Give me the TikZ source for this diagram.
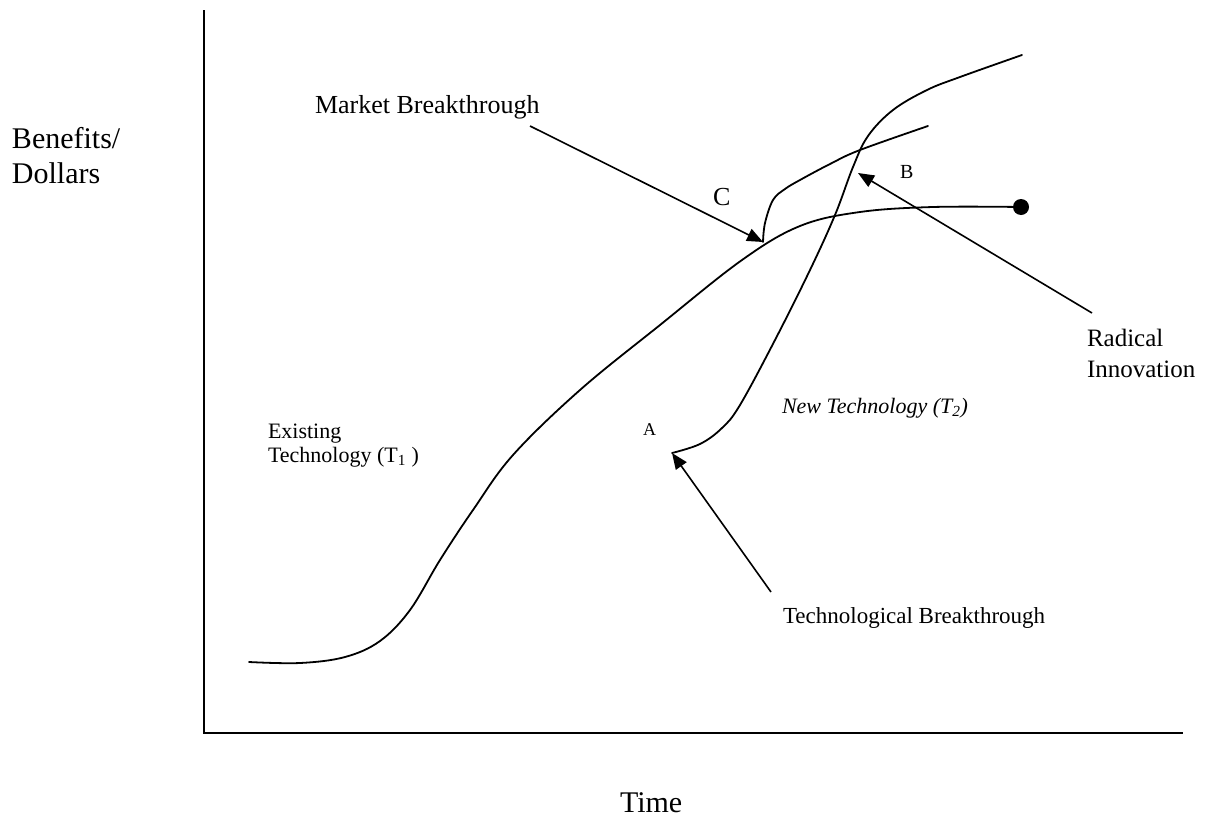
\documentclass[tikz,border=0pt]{standalone}
\usepackage{fontspec}
\setmainfont{Liberation Serif}
\usetikzlibrary{arrows.meta}
\begin{document}
\begin{tikzpicture}[x=1pt,y=-1pt,
  lbl/.style={anchor=base west,inner sep=0pt,outer sep=0pt},
  curve/.style={line width=1.8pt,line join=round,line cap=round},
  axisline/.style={line width=2.2pt},
  pointer/.style={line width=1.6pt,-{Triangle[length=16pt,width=13pt]}}]
\useasboundingbox (0,0) rectangle (1215,819);
% axes
\coordinate (ytop) at (204,10);
\coordinate (origin) at (204,733);
\coordinate (xend) at (1183,733);
\draw[axisline] (ytop) -- (origin) -- (xend);
% axis labels
\node[lbl,font=\fontsize{30}{35}\selectfont] (ben) at (12,148) {Benefits/};
\node[lbl,font=\fontsize{30}{35}\selectfont] (dol) at (12,183) {Dollars};
\node[lbl,font=\fontsize{30}{35}\selectfont] (time) at (620,812) {Time};
% existing technology curve T1
\draw[curve] plot[smooth,tension=0.6] coordinates {(249,662) (300,663) (345,657) (380,641) (410,610) (440,560) (473,510) (513,455) (580,390) (660,325) (742,260) (800,226) (860,212) (933,207) (1021,207)};
\fill (1021,207) circle (8);
% new technology curve T2
\draw[curve] plot[smooth,tension=0.6] coordinates {(672,453) (700,444) (722,428) (740,405) (775,340) (810,270) (835,215) (853,167) (868,136) (893,110) (927,90) (960,77) (1022,55)};
% market curve C
\draw[curve] plot[smooth,tension=0.6] coordinates {(763,242) (765,223) (773,200) (785,189) (800,180) (830,164) (860,150) (928,126)};
% labels
\node[lbl,font=\fontsize{26}{30}\selectfont] (mb) at (315,113) {Market Breakthrough};
\node[lbl,font=\fontsize{26}{30}\selectfont] (C) at (713,205) {C};
\node[lbl,font=\fontsize{20}{24}\selectfont] (B) at (900,178) {B};
\node[lbl,font=\fontsize{18}{22}\selectfont] (A) at (643,435) {A};
\node[lbl,font=\fontsize{22}{20}\selectfont] (ex1) at (268,438) {Existing};
\node[lbl,font=\fontsize{22}{20}\selectfont] (ex2) at (268,462) {Technology (T\textsubscript{1} )};
\node[lbl,font=\fontsize{22}{26}\selectfont\itshape] (nt) at (782,413) {New Technology (T\textsubscript{2})};
\node[lbl,font=\fontsize{25}{30}\selectfont] (ri1) at (1087,346) {Radical};
\node[lbl,font=\fontsize{25}{30}\selectfont] (ri2) at (1087,377) {Innovation};
\node[lbl,font=\fontsize{23}{27}\selectfont] (tb) at (783,623) {Technological Breakthrough};
% pointer arrows
\coordinate (mbs) at (530,126);
\coordinate (mbt) at (763,242);
\coordinate (ris) at (1092,313);
\coordinate (rit) at (858,173);
\coordinate (tbs) at (771,592);
\coordinate (tbt) at (672,453);
\draw[pointer] (mbs) -- (mbt);
\draw[pointer] (ris) -- (rit);
\draw[pointer] (tbs) -- (tbt);
\end{tikzpicture}
\end{document}
